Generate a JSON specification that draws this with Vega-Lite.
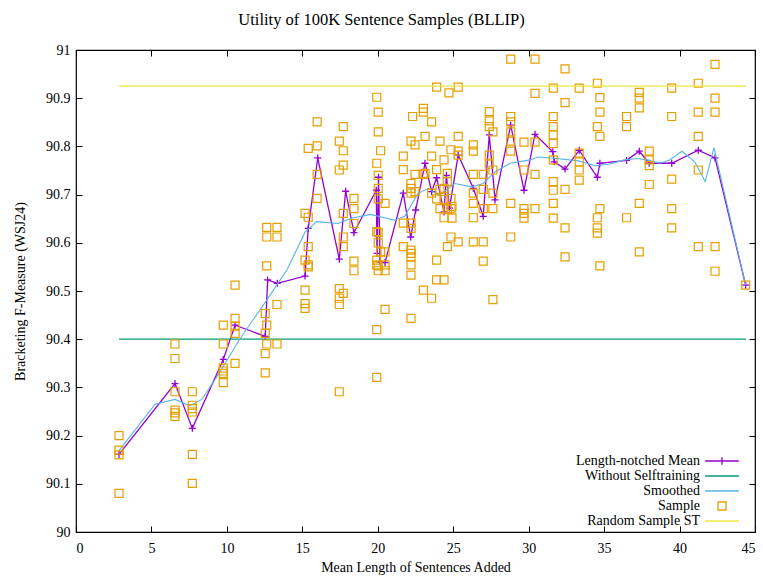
{
  "$schema": "https://vega.github.io/schema/vega-lite/v6.json",
  "width": 679,
  "height": 482,
  "autosize": {"type": "none"},
  "padding": {"left": 76, "top": 50, "right": 8, "bottom": 44},
  "background": "white",
  "config": {
    "font": "Liberation Serif",
    "view": {"stroke": "black", "strokeWidth": 1.2},
    "axis": {"labelFont": "Liberation Serif", "titleFont": "Liberation Serif", "labelColor": "black", "titleColor": "black", "tickColor": "black", "grid": false, "domain": false}
  },
  "title": {"text": "Utility of 100K Sentence Samples (BLLIP)", "font": "Liberation Serif", "fontSize": 16.5, "fontWeight": "normal", "color": "black", "anchor": "middle", "frame": "group", "dx": -34, "offset": 15},
  "datasets": {
    "mean": [
      {"x": 2.85, "y": 90.161}, {"x": 6.56, "y": 90.308}, {"x": 7.71, "y": 90.215}, {"x": 9.76, "y": 90.358},
      {"x": 10.54, "y": 90.429}, {"x": 12.54, "y": 90.406}, {"x": 12.7, "y": 90.523}, {"x": 13.34, "y": 90.516},
      {"x": 15.18, "y": 90.531}, {"x": 15.39, "y": 90.63}, {"x": 16.02, "y": 90.776}, {"x": 17.45, "y": 90.566},
      {"x": 17.87, "y": 90.707}, {"x": 18.42, "y": 90.621}, {"x": 19.9, "y": 90.709}, {"x": 19.95, "y": 90.578},
      {"x": 20.05, "y": 90.736}, {"x": 20.15, "y": 90.56}, {"x": 20.48, "y": 90.559}, {"x": 21.69, "y": 90.703},
      {"x": 22.18, "y": 90.612}, {"x": 22.51, "y": 90.668}, {"x": 23.13, "y": 90.765}, {"x": 23.57, "y": 90.706},
      {"x": 23.9, "y": 90.735}, {"x": 24.39, "y": 90.664}, {"x": 24.55, "y": 90.74}, {"x": 24.75, "y": 90.672},
      {"x": 25.33, "y": 90.782}, {"x": 26.33, "y": 90.713}, {"x": 26.99, "y": 90.655}, {"x": 27.39, "y": 90.824},
      {"x": 27.77, "y": 90.689}, {"x": 28.81, "y": 90.844}, {"x": 29.69, "y": 90.709}, {"x": 30.42, "y": 90.825},
      {"x": 31.6, "y": 90.789}, {"x": 31.7, "y": 90.768}, {"x": 32.41, "y": 90.753}, {"x": 33.35, "y": 90.792},
      {"x": 34.55, "y": 90.736}, {"x": 34.72, "y": 90.765}, {"x": 36.49, "y": 90.771}, {"x": 37.33, "y": 90.79},
      {"x": 37.99, "y": 90.765}, {"x": 39.48, "y": 90.765}, {"x": 41.24, "y": 90.792}, {"x": 42.35, "y": 90.776},
      {"x": 44.38, "y": 90.512}
    ],
    "smooth": [
      {"x": 2.85, "y": 90.169}, {"x": 5.24, "y": 90.265}, {"x": 6.56, "y": 90.275}, {"x": 7.55, "y": 90.262},
      {"x": 8.33, "y": 90.275}, {"x": 9.5, "y": 90.33}, {"x": 10.87, "y": 90.401}, {"x": 12.64, "y": 90.481},
      {"x": 14.0, "y": 90.545}, {"x": 15.18, "y": 90.622}, {"x": 15.95, "y": 90.644}, {"x": 17.36, "y": 90.64},
      {"x": 18.25, "y": 90.651}, {"x": 19.5, "y": 90.659}, {"x": 20.45, "y": 90.652}, {"x": 21.1, "y": 90.647},
      {"x": 21.78, "y": 90.655}, {"x": 22.66, "y": 90.702}, {"x": 23.33, "y": 90.713}, {"x": 24.05, "y": 90.698},
      {"x": 25.1, "y": 90.723}, {"x": 26.25, "y": 90.716}, {"x": 26.99, "y": 90.723}, {"x": 27.77, "y": 90.747},
      {"x": 28.76, "y": 90.765}, {"x": 30.09, "y": 90.772}, {"x": 30.6, "y": 90.778}, {"x": 31.5, "y": 90.776},
      {"x": 33.3, "y": 90.77}, {"x": 34.4, "y": 90.76}, {"x": 35.3, "y": 90.763}, {"x": 36.36, "y": 90.772},
      {"x": 37.2, "y": 90.775}, {"x": 37.86, "y": 90.772}, {"x": 38.68, "y": 90.765}, {"x": 39.34, "y": 90.772},
      {"x": 40.16, "y": 90.79}, {"x": 41.0, "y": 90.768}, {"x": 41.7, "y": 90.727}, {"x": 42.28, "y": 90.797},
      {"x": 44.38, "y": 90.512}
    ],
    "samples": [
      {"x": 2.85, "y": 90.2}, {"x": 2.85, "y": 90.17}, {"x": 2.85, "y": 90.16}, {"x": 2.85, "y": 90.08},
      {"x": 6.56, "y": 90.39}, {"x": 6.56, "y": 90.36}, {"x": 6.56, "y": 90.291}, {"x": 6.56, "y": 90.253}, {"x": 6.56, "y": 90.247}, {"x": 6.56, "y": 90.24},
      {"x": 7.71, "y": 90.291}, {"x": 7.71, "y": 90.263}, {"x": 7.71, "y": 90.256}, {"x": 7.71, "y": 90.249}, {"x": 7.71, "y": 90.161}, {"x": 7.71, "y": 90.101},
      {"x": 9.76, "y": 90.429}, {"x": 9.76, "y": 90.39}, {"x": 9.76, "y": 90.34}, {"x": 9.76, "y": 90.334}, {"x": 9.76, "y": 90.329}, {"x": 9.76, "y": 90.31},
      {"x": 10.54, "y": 90.512}, {"x": 10.54, "y": 90.443}, {"x": 10.54, "y": 90.427}, {"x": 10.54, "y": 90.412}, {"x": 10.54, "y": 90.35},
      {"x": 12.64, "y": 90.632}, {"x": 12.64, "y": 90.612}, {"x": 12.64, "y": 90.552}, {"x": 12.64, "y": 90.429}, {"x": 12.64, "y": 90.39},
      {"x": 12.54, "y": 90.453}, {"x": 12.54, "y": 90.412}, {"x": 12.54, "y": 90.37}, {"x": 12.54, "y": 90.33},
      {"x": 13.32, "y": 90.632}, {"x": 13.32, "y": 90.612}, {"x": 13.32, "y": 90.472}, {"x": 13.32, "y": 90.39},
      {"x": 15.18, "y": 90.661}, {"x": 15.18, "y": 90.564}, {"x": 15.18, "y": 90.502}, {"x": 15.18, "y": 90.474}, {"x": 15.18, "y": 90.464},
      {"x": 15.39, "y": 90.796}, {"x": 15.39, "y": 90.653}, {"x": 15.39, "y": 90.592}, {"x": 15.39, "y": 90.554}, {"x": 15.39, "y": 90.55},
      {"x": 15.98, "y": 90.851}, {"x": 15.98, "y": 90.801}, {"x": 15.98, "y": 90.742}, {"x": 15.98, "y": 90.692},
      {"x": 17.45, "y": 90.811}, {"x": 17.45, "y": 90.751}, {"x": 17.45, "y": 90.505}, {"x": 17.45, "y": 90.485}, {"x": 17.45, "y": 90.472}, {"x": 17.45, "y": 90.291},
      {"x": 17.71, "y": 90.841}, {"x": 17.71, "y": 90.791}, {"x": 17.71, "y": 90.761}, {"x": 17.71, "y": 90.661}, {"x": 17.71, "y": 90.612}, {"x": 17.71, "y": 90.592}, {"x": 17.71, "y": 90.495},
      {"x": 18.42, "y": 90.692}, {"x": 18.42, "y": 90.671}, {"x": 18.42, "y": 90.64}, {"x": 18.42, "y": 90.562}, {"x": 18.42, "y": 90.542},
      {"x": 19.93, "y": 90.902}, {"x": 19.93, "y": 90.765}, {"x": 19.93, "y": 90.623}, {"x": 19.93, "y": 90.564}, {"x": 19.93, "y": 90.554}, {"x": 19.93, "y": 90.42}, {"x": 19.93, "y": 90.321},
      {"x": 20.03, "y": 90.871}, {"x": 20.03, "y": 90.83}, {"x": 20.03, "y": 90.74}, {"x": 20.03, "y": 90.713}, {"x": 20.03, "y": 90.691}, {"x": 20.03, "y": 90.621}, {"x": 20.03, "y": 90.6}, {"x": 20.03, "y": 90.552}, {"x": 20.03, "y": 90.542},
      {"x": 20.19, "y": 90.791}, {"x": 20.19, "y": 90.581},
      {"x": 20.48, "y": 90.682}, {"x": 20.48, "y": 90.581}, {"x": 20.48, "y": 90.554}, {"x": 20.48, "y": 90.542}, {"x": 20.48, "y": 90.462},
      {"x": 21.69, "y": 90.78}, {"x": 21.69, "y": 90.752}, {"x": 21.69, "y": 90.641}, {"x": 21.69, "y": 90.592},
      {"x": 22.2, "y": 90.811}, {"x": 22.2, "y": 90.723}, {"x": 22.2, "y": 90.713}, {"x": 22.2, "y": 90.703}, {"x": 22.2, "y": 90.641}, {"x": 22.2, "y": 90.63}, {"x": 22.2, "y": 90.585}, {"x": 22.2, "y": 90.578}, {"x": 22.2, "y": 90.571}, {"x": 22.2, "y": 90.554}, {"x": 22.2, "y": 90.533}, {"x": 22.2, "y": 90.443},
      {"x": 22.31, "y": 90.862},
      {"x": 22.47, "y": 90.803}, {"x": 22.47, "y": 90.742}, {"x": 22.47, "y": 90.706},
      {"x": 23.02, "y": 90.879}, {"x": 23.02, "y": 90.871}, {"x": 23.02, "y": 90.742}, {"x": 23.02, "y": 90.502},
      {"x": 23.13, "y": 90.821}, {"x": 23.13, "y": 90.744},
      {"x": 23.57, "y": 90.851}, {"x": 23.57, "y": 90.78}, {"x": 23.57, "y": 90.703}, {"x": 23.57, "y": 90.485},
      {"x": 23.9, "y": 90.923}, {"x": 23.9, "y": 90.752}, {"x": 23.9, "y": 90.691}, {"x": 23.9, "y": 90.564}, {"x": 23.9, "y": 90.523},
      {"x": 24.12, "y": 90.811}, {"x": 24.12, "y": 90.711}, {"x": 24.12, "y": 90.671},
      {"x": 24.39, "y": 90.772}, {"x": 24.39, "y": 90.713}, {"x": 24.39, "y": 90.69}, {"x": 24.39, "y": 90.652}, {"x": 24.39, "y": 90.523},
      {"x": 24.61, "y": 90.744}, {"x": 24.61, "y": 90.727}, {"x": 24.61, "y": 90.67}, {"x": 24.61, "y": 90.592},
      {"x": 24.72, "y": 90.911},
      {"x": 24.85, "y": 90.793}, {"x": 24.85, "y": 90.692}, {"x": 24.85, "y": 90.671}, {"x": 24.85, "y": 90.612},
      {"x": 24.92, "y": 90.675}, {"x": 24.92, "y": 90.651},
      {"x": 25.33, "y": 90.923}, {"x": 25.33, "y": 90.821}, {"x": 25.33, "y": 90.79}, {"x": 25.33, "y": 90.782}, {"x": 25.33, "y": 90.602},
      {"x": 26.33, "y": 90.803}, {"x": 26.33, "y": 90.79}, {"x": 26.33, "y": 90.742}, {"x": 26.33, "y": 90.703}, {"x": 26.33, "y": 90.682}, {"x": 26.33, "y": 90.652}, {"x": 26.33, "y": 90.602},
      {"x": 26.99, "y": 90.742}, {"x": 26.99, "y": 90.711}, {"x": 26.99, "y": 90.671}, {"x": 26.99, "y": 90.602}, {"x": 26.99, "y": 90.562},
      {"x": 27.39, "y": 90.872}, {"x": 27.39, "y": 90.853}, {"x": 27.39, "y": 90.841}, {"x": 27.39, "y": 90.782}, {"x": 27.39, "y": 90.763},
      {"x": 27.63, "y": 90.83}, {"x": 27.63, "y": 90.751}, {"x": 27.63, "y": 90.703}, {"x": 27.63, "y": 90.671}, {"x": 27.63, "y": 90.482},
      {"x": 28.81, "y": 90.981}, {"x": 28.81, "y": 90.862}, {"x": 28.81, "y": 90.851}, {"x": 28.81, "y": 90.83}, {"x": 28.81, "y": 90.811}, {"x": 28.81, "y": 90.79}, {"x": 28.81, "y": 90.682}, {"x": 28.81, "y": 90.612},
      {"x": 29.69, "y": 90.809}, {"x": 29.69, "y": 90.751}, {"x": 29.69, "y": 90.671}, {"x": 29.69, "y": 90.661}, {"x": 29.69, "y": 90.651},
      {"x": 30.42, "y": 90.981}, {"x": 30.42, "y": 90.91}, {"x": 30.42, "y": 90.809}, {"x": 30.42, "y": 90.742}, {"x": 30.42, "y": 90.671},
      {"x": 31.63, "y": 90.921}, {"x": 31.63, "y": 90.862}, {"x": 31.63, "y": 90.841}, {"x": 31.63, "y": 90.824}, {"x": 31.63, "y": 90.806}, {"x": 31.63, "y": 90.772}, {"x": 31.63, "y": 90.727}, {"x": 31.63, "y": 90.709}, {"x": 31.63, "y": 90.682}, {"x": 31.63, "y": 90.651},
      {"x": 32.41, "y": 90.961}, {"x": 32.41, "y": 90.891}, {"x": 32.41, "y": 90.711}, {"x": 32.41, "y": 90.631}, {"x": 32.41, "y": 90.571},
      {"x": 33.35, "y": 90.921}, {"x": 33.35, "y": 90.786}, {"x": 33.35, "y": 90.768}, {"x": 33.35, "y": 90.751}, {"x": 33.35, "y": 90.73},
      {"x": 34.55, "y": 90.931}, {"x": 34.55, "y": 90.841}, {"x": 34.55, "y": 90.652}, {"x": 34.55, "y": 90.631}, {"x": 34.55, "y": 90.62},
      {"x": 34.72, "y": 90.901}, {"x": 34.72, "y": 90.871}, {"x": 34.72, "y": 90.821}, {"x": 34.72, "y": 90.671}, {"x": 34.72, "y": 90.552},
      {"x": 36.49, "y": 90.862}, {"x": 36.49, "y": 90.841}, {"x": 36.49, "y": 90.652},
      {"x": 37.33, "y": 90.912}, {"x": 37.33, "y": 90.9}, {"x": 37.33, "y": 90.88}, {"x": 37.33, "y": 90.682}, {"x": 37.33, "y": 90.581},
      {"x": 37.99, "y": 90.79}, {"x": 37.99, "y": 90.772}, {"x": 37.99, "y": 90.76}, {"x": 37.99, "y": 90.721},
      {"x": 39.48, "y": 90.921}, {"x": 39.48, "y": 90.862}, {"x": 39.48, "y": 90.732}, {"x": 39.48, "y": 90.671}, {"x": 39.48, "y": 90.631},
      {"x": 41.24, "y": 90.931}, {"x": 41.24, "y": 90.871}, {"x": 41.24, "y": 90.821}, {"x": 41.24, "y": 90.751}, {"x": 41.24, "y": 90.592},
      {"x": 42.35, "y": 90.97}, {"x": 42.35, "y": 90.9}, {"x": 42.35, "y": 90.871}, {"x": 42.35, "y": 90.592}, {"x": 42.35, "y": 90.541},
      {"x": 44.38, "y": 90.512}
    ]
  },
  "layer": [
    {
      "data": {"name": "mean"},
      "mark": {"type": "line", "strokeWidth": 1.3},
      "encoding": {
        "x": {"field": "x", "type": "quantitative", "scale": {"domain": [0, 45], "nice": false, "zero": false},
              "axis": {"orient": "bottom", "title": "Mean Length of Sentences Added", "values": [0, 5, 10, 15, 20, 25, 30, 35, 40, 45], "tickSize": -6, "labelPadding": 15, "labelFontSize": 14, "titleFontSize": 14, "titleFontWeight": "normal", "titlePadding": 5}},
        "y": {"field": "y", "type": "quantitative", "scale": {"domain": [90, 91], "nice": false, "zero": false},
              "axis": {"orient": "left", "title": "Bracketing F-Measure (WSJ24)", "values": [90, 90.1, 90.2, 90.3, 90.4, 90.5, 90.6, 90.7, 90.8, 90.9, 91], "format": "~g", "tickSize": -6, "labelPadding": 12, "labelFontSize": 14, "titleFontSize": 14, "titleFontWeight": "normal", "titlePadding": 18}},
        "color": {"datum": "Length-notched Mean", "type": "nominal",
          "scale": {"domain": ["Length-notched Mean", "Without Selftraining", "Smoothed", "Sample", "Random Sample ST"], "range": ["#9400d3", "#009e73", "#56b4e9", "#e69f00", "#f0e442"]},
          "legend": {
            "title": null, "orient": "none", "legendX": 638, "legendY": 403, "padding": 0,
            "labelFont": "Liberation Serif", "labelFontSize": 14, "labelColor": "black", "labelAlign": "right", "labelOffset": -30,
            "symbolSize": 196, "rowPadding": -0.8, "symbolStrokeWidth": 1.3,
            "encode": {"symbols": {"update": {
              "shape": {"signal": "datum.value === 'Sample' ? 'square' : (datum.value === 'Length-notched Mean' ? 'M-2.4,0H2.4M0,-0.55V0.55' : 'M-2.4,0H2.4')"},
              "size": {"signal": "datum.value === 'Sample' ? 64 : 196"},
              "fill": {"value": "transparent"},
              "stroke": {"scale": "color", "field": "value"},
              "strokeWidth": {"value": 1.3}
            }}}
          }}
      }
    },
    {
      "data": {"name": "mean"},
      "mark": {"type": "point", "shape": "M-1,0H1M0,-1V1", "size": 49, "filled": false, "strokeWidth": 1.3, "opacity": 1},
      "encoding": {
        "x": {"field": "x", "type": "quantitative", "axis": null},
        "y": {"field": "y", "type": "quantitative", "axis": null},
        "color": {"datum": "Length-notched Mean", "type": "nominal"}
      }
    },
    {
      "data": {"values": [{"x0": 2.85, "x1": 44.4, "y": 90.4}]},
      "mark": {"type": "rule", "strokeWidth": 1.2},
      "encoding": {
        "x": {"field": "x0", "type": "quantitative", "axis": null},
        "x2": {"field": "x1"},
        "y": {"field": "y", "type": "quantitative", "axis": null},
        "color": {"datum": "Without Selftraining", "type": "nominal"}
      }
    },
    {
      "data": {"name": "smooth"},
      "mark": {"type": "line", "strokeWidth": 1.1},
      "encoding": {
        "x": {"field": "x", "type": "quantitative", "axis": null},
        "y": {"field": "y", "type": "quantitative", "axis": null},
        "color": {"datum": "Smoothed", "type": "nominal"}
      }
    },
    {
      "data": {"name": "samples"},
      "mark": {"type": "point", "shape": "square", "size": 64, "filled": false, "strokeWidth": 1.2, "opacity": 1},
      "encoding": {
        "x": {"field": "x", "type": "quantitative",
              "axis": {"orient": "top", "title": null, "labels": false, "values": [0, 5, 10, 15, 20, 25, 30, 35, 40, 45], "tickSize": -6}},
        "y": {"field": "y", "type": "quantitative",
              "axis": {"orient": "right", "title": null, "labels": false, "values": [90, 90.1, 90.2, 90.3, 90.4, 90.5, 90.6, 90.7, 90.8, 90.9, 91], "tickSize": -6}},
        "color": {"datum": "Sample", "type": "nominal"}
      }
    },
    {
      "data": {"values": [{"x0": 2.85, "x1": 44.4, "y": 90.925}]},
      "mark": {"type": "rule", "strokeWidth": 1.2},
      "encoding": {
        "x": {"field": "x0", "type": "quantitative", "axis": null},
        "x2": {"field": "x1"},
        "y": {"field": "y", "type": "quantitative", "axis": null},
        "color": {"datum": "Random Sample ST", "type": "nominal"}
      }
    }
  ]
}
